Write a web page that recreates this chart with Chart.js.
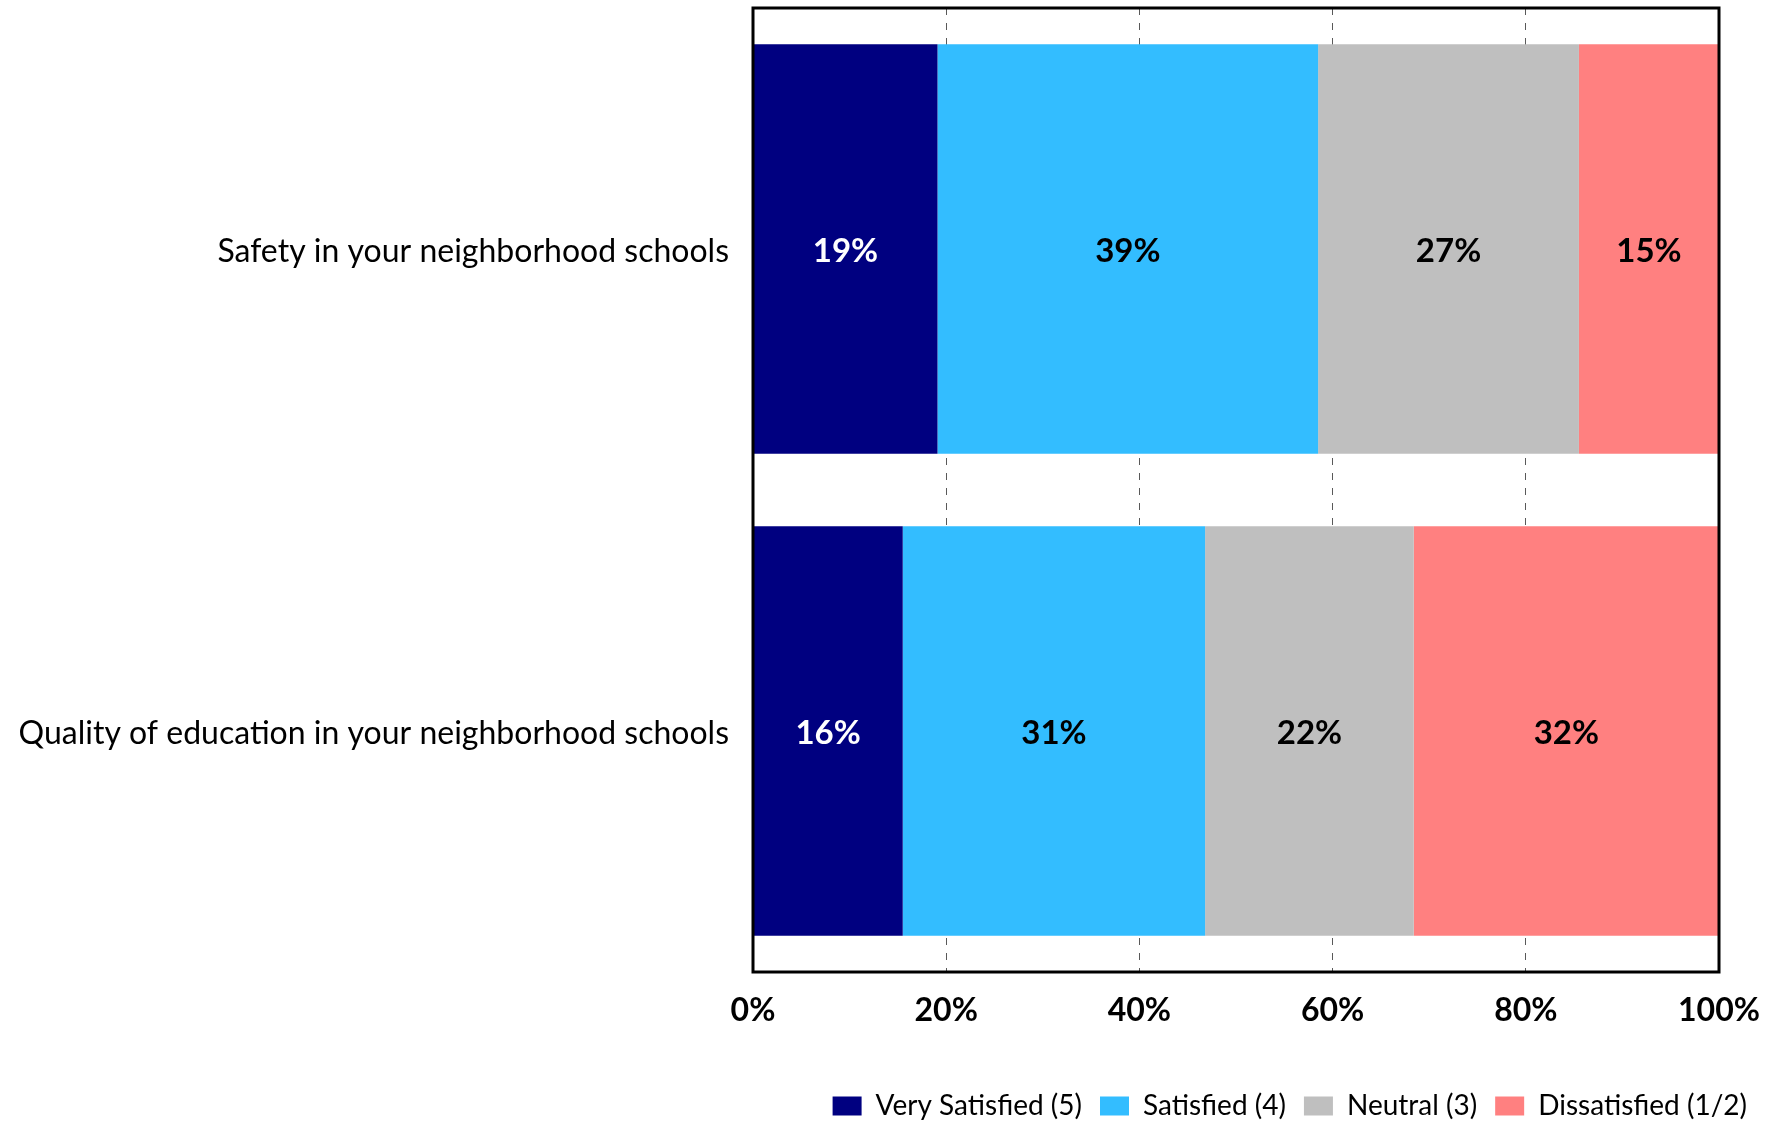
<!DOCTYPE html>
<html>
<head>
<meta charset="utf-8">
<script src="https://cdn.jsdelivr.net/npm/chart.js@4/dist/chart.umd.min.js"></script>
<style>
	html, body { margin: 0; padding: 0; background: #fff; }
	#wrap { width: 1775px; height: 1123px; }
</style>
</head>
<body>
<div id="wrap"><canvas id="chart" width="1775" height="1123"></canvas></div>
<script>
const categories = [
	"Safety in your neighborhood schools",
	"Quality of education in your neighborhood schools"
];
const seriesNames = ["Very Satisfied (5)", "Satisfied (4)", "Neutral (3)", "Dissatisfied (1/2)"];
const verySatisfied = [19.1, 15.5];
const satisfied = [39.4, 31.3];
const neutral = [27.0, 21.6];
const dissatisfied = [14.5, 31.6];
const xTicks = [0, 20, 40, 60, 80, 100];

const colors = ["#000080", "#33BDFF", "#BFBFBF", "#FF8080"];
const fontFamily = "Lato, 'Open Sans', sans-serif";

// labels inside each bar segment
const barLabels = {
	id: "barLabels",
	afterDatasetsDraw(chart) {
		const {ctx} = chart;
		ctx.save();
		ctx.font = `bold 33px ${fontFamily}`;
		ctx.textAlign = "center";
		ctx.textBaseline = "middle";
		chart.data.datasets.forEach((ds, i) => {
			const meta = chart.getDatasetMeta(i);
			meta.data.forEach((bar, j) => {
				ctx.fillStyle = i === 0 ? "#ffffff" : "#000000";
				ctx.fillText(Math.round(ds.data[j]) + "%", (bar.x + bar.base) / 2, bar.y + 2);
			});
		});
		ctx.restore();
	}
};

// black frame round the plot
const plotFrame = {
	id: "plotFrame",
	afterDraw(chart) {
		const {ctx, chartArea} = chart;
		ctx.save();
		ctx.strokeStyle = "#000";
		ctx.lineWidth = 3;
		ctx.strokeRect(chartArea.left, chartArea.top, chartArea.right - chartArea.left, chartArea.bottom - chartArea.top);
		ctx.restore();
	}
};

const data = {
	labels: categories,
	datasets: [verySatisfied, satisfied, neutral, dissatisfied].map((values, i) => ({
		label: seriesNames[i],
		data: values,
		backgroundColor: colors[i],
		borderWidth: 0,
		barPercentage: 0.85,
		categoryPercentage: 1
	}))
};

new Chart(document.getElementById("chart"), {
	type: "bar",
	data,
	options: {
		indexAxis: "y",
		responsive: false,
		animation: false,
		layout: {padding: {top: 8, right: 10, left: 0, bottom: -7}},
		scales: {
			x: {
				stacked: true,
				min: 0,
				max: 100,
				afterBuildTicks: (scale) => { scale.ticks = xTicks.map((v) => ({value: v})); },
				afterFit: (scale) => {
					scale.height = 102;
					scale.paddingRight = 56;
				},
				ticks: {
					callback: (v) => v + "%",
					color: "#000",
					padding: 19,
					font: {family: fontFamily, size: 32, weight: "bold"}
				},
				grid: {
					color: "#595959",
					lineWidth: 1,
					drawTicks: false
				},
				border: {display: false, dash: [7, 8]}
			},
			y: {
				stacked: true,
				afterFit: (scale) => {
					scale.width = 753;
					scale.paddingTop = 0;
					scale.paddingBottom = 0;
				},
				ticks: {
					color: "#000",
					padding: 24,
					labelOffset: 3,
					font: {family: fontFamily, size: 32}
				},
				grid: {display: false, drawTicks: false},
				border: {display: false}
			}
		},
		plugins: {
			legend: {
				position: "bottom",
				align: "end",
				labels: {
					color: "#000",
					boxWidth: 29,
					boxHeight: 19,
					padding: 18,
					font: {family: fontFamily, size: 28}
				}
			},
			tooltip: {enabled: false}
		}
	},
	plugins: [barLabels, plotFrame]
});
</script>
</body>
</html>
